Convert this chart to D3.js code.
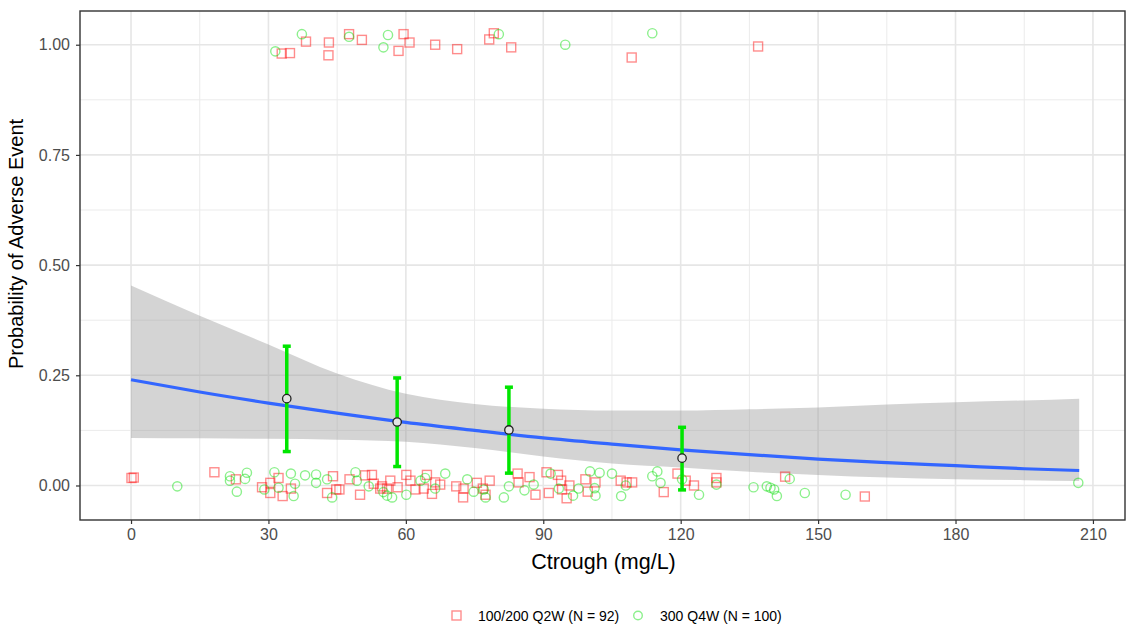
<!DOCTYPE html>
<html lang="en">
<head>
  <meta charset="UTF-8">
  <title>Probability of Adverse Event vs Ctrough</title>
  <script src="https://cdnjs.cloudflare.com/ajax/libs/d3/7.8.5/d3.min.js"></script>
  <style>
    body { margin: 0; background: #fff; }
    svg { display: block; font-family: "Liberation Sans", Arial, sans-serif; }
  </style>
</head>
<body>
  <svg id="chart" width="1126" height="624"></svg>

  <script>
    // x tick labels
    const xTicks = [0, 30, 60, 90, 120, 150, 180, 210];
    const yTicks = [0, 0.25, 0.5, 0.75, 1];

    // logistic fit (Ctrough, prob, lower, upper)
    const fitX     = [0, 15, 30, 45, 60, 75, 90, 105, 120, 135, 150, 165, 180, 195, 207];
    const fitProb  = [0.240, 0.212, 0.187, 0.164, 0.143, 0.125, 0.108, 0.094, 0.081, 0.070, 0.060, 0.052, 0.045, 0.038, 0.034];
    const fitLower = [0.108, 0.107, 0.106, 0.104, 0.099, 0.085, 0.066, 0.050, 0.041, 0.031, 0.024, 0.018, 0.014, 0.012, 0.010];
    const fitUpper = [0.454, 0.385, 0.320, 0.254, 0.208, 0.185, 0.174, 0.170, 0.170, 0.173, 0.177, 0.184, 0.189, 0.193, 0.197];

    // binned observed proportions with 95% CI
    const binX     = [34.0, 58.1, 82.5, 120.3];
    const binProb  = [0.197, 0.144, 0.126, 0.062];
    const binLower = [0.077, 0.043, 0.028, -0.010];
    const binUpper = [0.316, 0.244, 0.223, 0.132];

    // 100/200 Q2W subjects (jittered response)
    const q2wX = [32.9, 34.7, 38.2, 43.2, 43.1, 47.6, 50.4, 59.5, 60.8, 58.4, 66.4, 71.2, 78.2, 79.2, 83.0, 109.3, 136.9,
      0.1, 0.6, 18.2, 22.9, 28.6, 30.4, 32.2, 30.4, 33.1, 34.9, 42.8, 44.1, 44.8, 45.5, 47.7, 50.0, 51.1, 52.6, 53.0,
      54.8, 54.4, 56.6, 55.9, 58.2, 60.1, 61.0, 62.1, 64.6, 63.9, 65.7, 66.4, 67.5, 71.0, 72.6, 72.5, 75.5, 76.8, 77.4,
      78.3, 84.4, 84.6, 87.0, 88.3, 90.7, 91.2, 93.2, 93.9, 94.1, 95.1, 95.7, 99.2, 99.7, 101.4, 106.9, 108.2, 109.4,
      116.3, 119.3, 121.1, 122.9, 127.8, 127.8, 142.8, 160.2];
    const q2wY = [0.980, 0.981, 1.007, 1.005, 0.976, 1.024, 1.011, 1.024, 1.005, 0.986, 1.000, 0.990, 1.012, 1.026, 0.994, 0.971, 0.996,
      0.017, 0.018, 0.030, 0.014, -0.004, 0.006, 0.017, -0.017, -0.024, -0.007, -0.017, 0.021, -0.009, -0.009, 0.014, -0.021, 0.023, 0.024, 0.004,
      -0.002, -0.007, 0.011, -0.007, -0.004, 0.024, 0.011, -0.009, 0.024, -0.007, -0.019, 0.007, 0.002, -0.002, -0.007, -0.027, 0.006, -0.007, -0.021,
      0.011, 0.027, 0.007, 0.019, -0.021, 0.030, -0.017, 0.024, 0.011, -0.009, -0.029, 0.000, 0.014, -0.014, 0.007, 0.011, 0.007, 0.007,
      -0.015, 0.027, 0.011, 0.000, 0.017, 0.007, 0.020, -0.025];

    // 300 Q4W subjects (jittered response)
    const q4wX = [37.3, 31.5, 47.6, 56.1, 55.1, 80.3, 94.8, 113.8,
      10.1, 21.6, 21.6, 25.3, 24.9, 23.1, 29.1, 31.3, 32.2, 34.9, 35.8, 35.5, 38.0, 40.4, 40.4, 42.8, 43.9, 49.0, 49.3,
      51.9, 55.1, 55.9, 57.0, 60.1, 63.2, 64.2, 66.4, 68.6, 73.4, 74.8, 77.0, 77.4, 81.4, 82.5, 85.9, 87.9, 91.6, 93.4,
      96.5, 97.7, 100.2, 101.2, 101.4, 102.3, 105.0, 107.0, 108.0, 113.8, 114.9, 115.6, 120.3, 124.0, 127.8, 135.9,
      138.8, 139.6, 140.4, 141.0, 143.8, 147.1, 156.0, 206.8];
    const q4wY = [1.024, 0.985, 1.018, 1.022, 0.994, 1.024, 1.000, 1.026,
      -0.002, 0.021, 0.011, 0.029, 0.015, -0.014, -0.009, 0.030, -0.005, 0.027, 0.004, -0.024, 0.023, 0.025, 0.006, 0.014, -0.027, 0.030, 0.011,
      -0.002, -0.015, -0.023, -0.027, -0.021, 0.011, 0.017, -0.007, 0.027, 0.014, -0.014, -0.009, -0.027, -0.027, -0.002, -0.011, 0.002, 0.027, -0.007,
      -0.023, -0.007, 0.032, -0.006, -0.023, 0.029, 0.027, -0.024, 0.000, 0.021, 0.032, 0.006, 0.014, -0.021, 0.002, -0.004,
      -0.002, -0.005, -0.009, -0.024, 0.015, -0.017, -0.021, 0.006];

    const legendLabels = ["100/200 Q2W (N = 92)", "300 Q4W (N = 100)"];

    //panel box
    const pLeft = 80, pRight = 1125, pTop = 11, pBottom = 520;

    let svg = d3.select('#chart');

    let x = d3.scaleLinear().domain([-11.14, 217.0]).range([pLeft, pRight]);
    let y = d3.scaleLinear().domain([-0.0783, 1.0765]).range([pBottom, pTop]);

    //grid lines (major + minor)
    let grid = svg.append('g');
    let xMinor = xTicks.slice(0, -1).map(d => d + 15);
    let yMinor = yTicks.slice(0, -1).map(d => d + 0.125);
    grid.selectAll('.xminor').data(xMinor).join('line')
      .attr('x1', d => x(d)).attr('x2', d => x(d)).attr('y1', pTop).attr('y2', pBottom)
      .attr('stroke', '#ebebeb').attr('stroke-width', 1);
    grid.selectAll('.yminor').data(yMinor).join('line')
      .attr('x1', pLeft).attr('x2', pRight).attr('y1', d => y(d)).attr('y2', d => y(d))
      .attr('stroke', '#ebebeb').attr('stroke-width', 1);
    grid.selectAll('.xmajor').data(xTicks).join('line')
      .attr('x1', d => x(d)).attr('x2', d => x(d)).attr('y1', pTop).attr('y2', pBottom)
      .attr('stroke', '#e6e6e6').attr('stroke-width', 1.6);
    grid.selectAll('.ymajor').data(yTicks).join('line')
      .attr('x1', pLeft).attr('x2', pRight).attr('y1', d => y(d)).attr('y2', d => y(d))
      .attr('stroke', '#e6e6e6').attr('stroke-width', 1.6);

    //confidence ribbon + fitted line
    let fit = fitX.map((d, i) => ({ x: d, p: fitProb[i], lo: fitLower[i], hi: fitUpper[i] }));
    svg.append('path').datum(fit)
      .attr('d', d3.area().x(d => x(d.x)).y0(d => y(d.lo)).y1(d => y(d.hi)).curve(d3.curveMonotoneX))
      .attr('fill', '#999999').attr('fill-opacity', 0.42);
    svg.append('path').datum(fit)
      .attr('d', d3.line().x(d => x(d.x)).y(d => y(d.p)).curve(d3.curveMonotoneX))
      .attr('fill', 'none').attr('stroke', '#3366ff').attr('stroke-width', 3.2);

    //scatter
    svg.append('g').selectAll('rect').data(q2wX.map((d, i) => [d, q2wY[i]])).join('rect')
      .attr('x', d => x(d[0]) - 4.5).attr('y', d => y(d[1]) - 4.5)
      .attr('width', 9).attr('height', 9)
      .attr('fill', 'none').attr('stroke', '#ff0000').attr('stroke-opacity', 0.45).attr('stroke-width', 1.4);
    svg.append('g').selectAll('circle').data(q4wX.map((d, i) => [d, q4wY[i]])).join('circle')
      .attr('cx', d => x(d[0])).attr('cy', d => y(d[1])).attr('r', 4.6)
      .attr('fill', 'none').attr('stroke', '#00dd00').attr('stroke-opacity', 0.45).attr('stroke-width', 1.4);

    //binned error bars
    let bins = binX.map((d, i) => ({ x: d, p: binProb[i], lo: binLower[i], hi: binUpper[i] }));
    let eb = svg.append('g').attr('stroke', '#00e600').attr('stroke-width', 3.5);
    eb.selectAll('.v').data(bins).join('line')
      .attr('x1', d => x(d.x)).attr('x2', d => x(d.x)).attr('y1', d => y(d.lo)).attr('y2', d => y(d.hi));
    eb.selectAll('.cl').data(bins).join('line')
      .attr('x1', d => x(d.x) - 4).attr('x2', d => x(d.x) + 4).attr('y1', d => y(d.lo)).attr('y2', d => y(d.lo));
    eb.selectAll('.ch').data(bins).join('line')
      .attr('x1', d => x(d.x) - 4).attr('x2', d => x(d.x) + 4).attr('y1', d => y(d.hi)).attr('y2', d => y(d.hi));
    svg.append('g').selectAll('circle').data(bins).join('circle')
      .attr('cx', d => x(d.x)).attr('cy', d => y(d.p)).attr('r', 4.2)
      .attr('fill', '#e4e4e4').attr('stroke', '#222').attr('stroke-width', 1.3);

    //panel border
    svg.append('rect').attr('x', pLeft).attr('y', pTop)
      .attr('width', pRight - pLeft).attr('height', pBottom - pTop)
      .attr('fill', 'none').attr('stroke', '#333').attr('stroke-width', 1.4);

    //axes
    let xAxis = svg.append('g').attr('transform', `translate(0,${pBottom})`)
      .call(d3.axisBottom(x).tickValues(xTicks).tickSize(4).tickPadding(5).tickFormat(d3.format('d')));
    let yAxis = svg.append('g').attr('transform', `translate(${pLeft},0)`)
      .call(d3.axisLeft(y).tickValues(yTicks).tickSize(4).tickPadding(6).tickFormat(d3.format('.2f')));
    [xAxis, yAxis].forEach(a => {
      a.select('.domain').remove();
      a.selectAll('.tick line').attr('stroke', '#333').attr('stroke-width', 1.2);
      a.selectAll('.tick text').attr('fill', '#4d4d4d').style('font-size', '16px');
    });

    //titles
    svg.append('text').attr('x', (pLeft + pRight) / 2 + 1).attr('y', 569)
      .attr('text-anchor', 'middle').style('font-size', '21.5px').attr('fill', '#000')
      .text('Ctrough (mg/L)');
    svg.append('text').attr('transform', 'translate(23,244) rotate(-90)')
      .attr('text-anchor', 'middle').style('font-size', '20px').attr('fill', '#000')
      .text('Probability of Adverse Event');

    //legend
    let lg = svg.append('g').style('font-size', '14px');
    lg.append('rect').attr('x', 452).attr('y', 611).attr('width', 9).attr('height', 9)
      .attr('fill', 'none').attr('stroke', '#ff0000').attr('stroke-opacity', 0.45).attr('stroke-width', 1.4);
    lg.append('text').attr('x', 478).attr('y', 620.5).attr('fill', '#000').text(legendLabels[0]);
    lg.append('circle').attr('cx', 638).attr('cy', 615.5).attr('r', 4.3)
      .attr('fill', 'none').attr('stroke', '#00dd00').attr('stroke-opacity', 0.45).attr('stroke-width', 1.4);
    lg.append('text').attr('x', 660).attr('y', 620.5).attr('fill', '#000').text(legendLabels[1]);
  </script>
</body>
</html>
